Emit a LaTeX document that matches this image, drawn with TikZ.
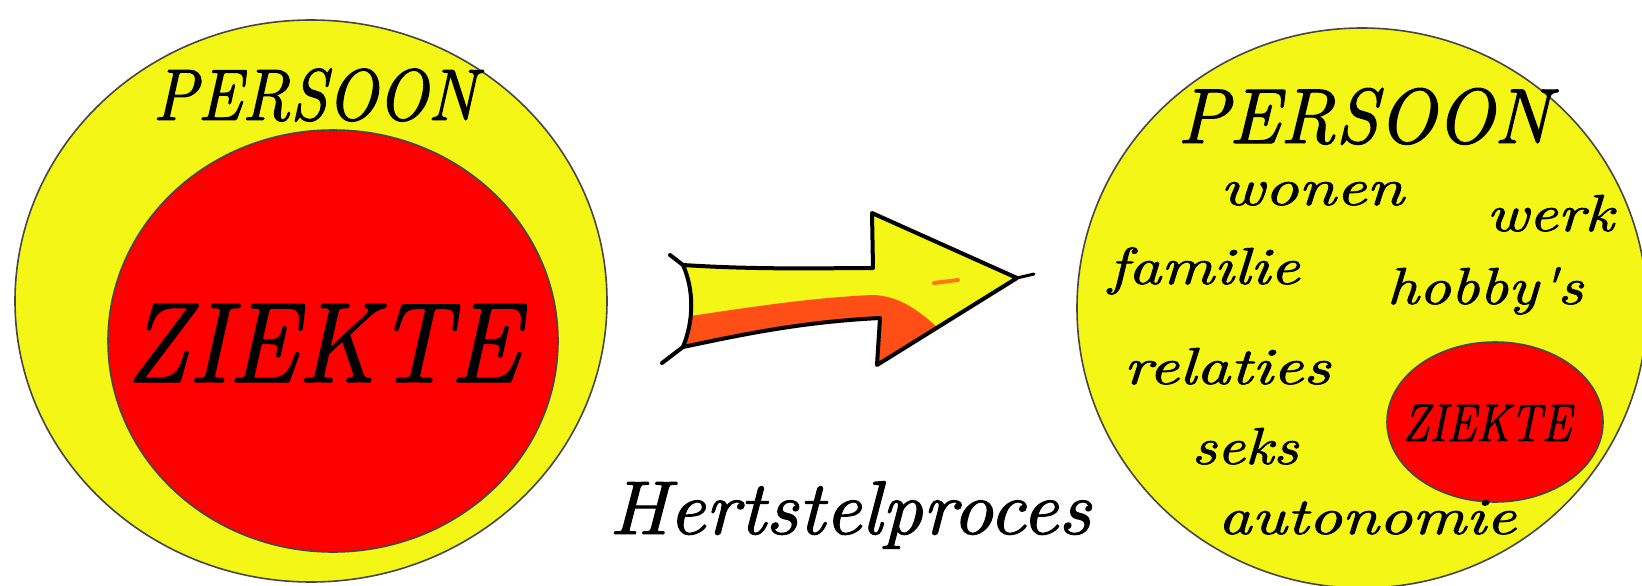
\documentclass[tikz,border=0pt]{standalone}
\usepackage{fontspec}
\usepackage{graphicx}
\usetikzlibrary{shapes.geometric}
\newfontfamily\wfont[FakeBold=1.3]{lmroman10-italic.otf}
\definecolor{pyellow}{RGB}{244,246,22}
\definecolor{pred}{RGB}{255,0,0}
\definecolor{porange}{RGB}{255,78,22}
\definecolor{pedge}{RGB}{70,70,70}
\newcommand{\hsc}[2]{\scalebox{#1}[1]{#2}}
\newcommand{\arrowpath}{(683,265) .. controls (760,270) and (830,268) .. (873,268) -- (872,213) -- (1017,278) -- (877,365) -- (880,318) .. controls (800,322) and (740,335) .. (683,347) .. controls (694,320) and (694,290) .. (683,265) -- cycle}
\begin{document}
\begin{tikzpicture}[x=1pt,y=-1pt,
  disc/.style={ellipse, draw=pedge, line width=1.6pt, inner sep=0pt},
  word/.style={anchor=base, inner sep=0pt, text=black},
  fs/.style={font=\fontsize{#1}{#1}\selectfont\wfont},
  arrowline/.style={draw=black, line width=4pt, line join=round, line cap=round}
]
\useasboundingbox (0,0) rectangle (1642,586);
% left: person dominated by illness
\node[disc, fill=pyellow, minimum width=592pt, minimum height=562pt] (outerL) at (311,301) {};
\node[disc, fill=pred, minimum width=450pt, minimum height=422pt] (innerL) at (333,341) {};
\node[word, fs=73] (persL) at (315,120) {\hsc{0.9}{PERSOON}};
\node[word, fs=114] (ziekL) at (323,382) {\hsc{0.9}{ZIEKTE}};
% arrow
\begin{scope}
  \clip \arrowpath;
  \fill[pyellow] (640,200) rectangle (1040,380);
  \fill[porange] (650,322) .. controls (720,312) and (800,298) .. (873,295)
     .. controls (895,296) and (915,305) .. (945,335) -- (945,400) -- (650,400) -- cycle;
\end{scope}
\draw[porange!75!pyellow, line width=4pt, line cap=round] (934,283) -- (958,280);
\draw[arrowline] \arrowpath;
\coordinate (tailA) at (670,255);
\coordinate (tailB) at (662,363);
\coordinate (tipA) at (1017,278);
\coordinate (tipB) at (1034,274);
\coordinate (cornA) at (683,265);
\coordinate (cornB) at (683,347);
\draw[arrowline] (tailA) -- (cornA);
\draw[arrowline] (cornB) -- (tailB);
\draw[arrowline, line width=3pt] (tipA) -- (tipB);
\node[word, fs=76] (proc) at (850,534) {\hsc{1.05}{Hertstelproces}};
% right: person with many life domains
\node[disc, fill=pyellow, minimum width=570pt, minimum height=560pt] (outerR) at (1362,308) {};
\node[disc, fill=pred, minimum width=216pt, minimum height=160pt] (innerR) at (1495,422) {};
\node[word, fs=78] (persR) at (1364,143) {\hsc{0.97}{PERSOON}};
\node[word, fs=53] (ziekR) at (1487,441) {\hsc{0.83}{ZIEKTE}};
\node[word, fs=52] (wonen) at (1312,205) {\hsc{1.28}{wonen}};
\node[word, fs=52] (werk) at (1550,231) {\hsc{1.22}{werk}};
\node[word, fs=52] (familie) at (1204,284) {\hsc{1.24}{familie}};
\node[word, fs=52] (hobbys) at (1485,304) {\hsc{1.2}{hobby\textquotesingle s}};
\node[word, fs=52] (relaties) at (1227,384) {\hsc{1.28}{relaties}};
\node[word, fs=52] (seks) at (1245,464) {\hsc{1.18}{seks}};
\node[word, fs=52] (auto) at (1367,534) {\hsc{1.26}{autonomie}};
\end{tikzpicture}
\end{document}
